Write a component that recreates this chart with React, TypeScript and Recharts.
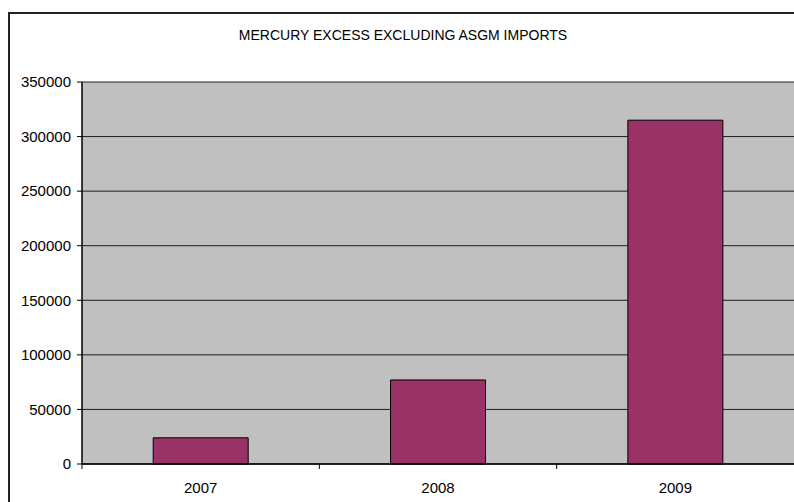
import React from "react";
import { BarChart, Bar, XAxis, YAxis, CartesianGrid } from "recharts";

const title = "MERCURY EXCESS EXCLUDING ASGM IMPORTS";
const years = ["2007", "2008", "2009"];
const excess = [24000, 77000, 315000];
const yTicks = [0, 50000, 100000, 150000, 200000, 250000, 300000, 350000];

const data = years.map((y, i) => ({ year: y, value: excess[i] }));

const FONT = "'Liberation Sans', Arial, sans-serif";

const XTick = (props: any) => {
  const { x, y, payload } = props;
  const half = payload && typeof payload.offset === "number" && payload.offset > 0 ? payload.offset : 0;
  return (
    <g>
      <line x1={x - half} x2={x - half} y1={y} y2={y + 5} stroke="#000" strokeWidth={1} />
      <text x={x} y={y + 29} textAnchor="middle" fontSize={15} fontFamily={FONT} fill="#000">
        {payload.value}
      </text>
    </g>
  );
};

export default function App() {
  return (
    <div style={{ position: "absolute", left: 0, top: 0, width: 794, height: 502, overflow: "hidden", background: "#fff" }}>
      <div
        style={{
          position: "absolute",
          left: 8,
          top: 12,
          width: 840,
          height: 540,
          border: "2px solid #222",
          boxSizing: "border-box",
        }}
      />
      <div
        style={{
          position: "absolute",
          left: 0,
          width: 806,
          top: 27,
          textAlign: "center",
          fontFamily: FONT,
          fontSize: 14,
          color: "#000",
          lineHeight: "16px",
        }}
      >
        {title}
      </div>
      <div style={{ position: "absolute", left: 0, top: 0 }}>
        <BarChart
          width={810}
          height={502}
          data={data}
          margin={{ top: 82, right: 16, left: 8, bottom: 8 }}
          barCategoryGap="30%"
        >
          <CartesianGrid vertical={false} stroke="#000" strokeOpacity={0.85} fill="#C0C0C0" fillOpacity={1} />
          <XAxis
            dataKey="year"
            height={30}
            tickLine={false}
            tickSize={0}
            tickMargin={0}
            axisLine={{ stroke: "#000", strokeWidth: 1.5 }}
            tick={<XTick />}
            interval={0}
          />
          <YAxis
            width={74}
            domain={[0, 350000]}
            ticks={yTicks}
            interval={0}
            tickSize={5}
            tickMargin={6}
            tickLine={{ stroke: "#000" }}
            axisLine={{ stroke: "#000", strokeWidth: 1.5 }}
            tick={{ fontSize: 15, fontFamily: FONT, fill: "#000" }}
          />
          <Bar dataKey="value" fill="#993366" stroke="#000" strokeWidth={1} isAnimationActive={false} />
        </BarChart>
      </div>
    </div>
  );
}
